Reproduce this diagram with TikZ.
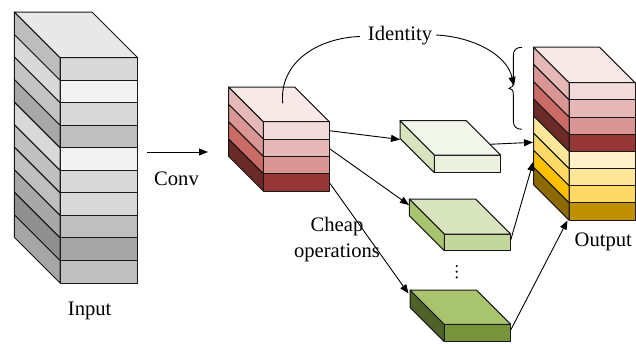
\documentclass[tikz,border=0pt]{standalone}
\usepackage{fontspec}
\setmainfont{Liberation Serif}
\usetikzlibrary{arrows.meta}

% grey stack
\definecolor{gA}{HTML}{D9D9D9}\definecolor{gAs}{HTML}{BDBDBD}
\definecolor{gB}{HTML}{F2F2F2}\definecolor{gBs}{HTML}{D9D9D9}
\definecolor{gC}{HTML}{BFBFBF}\definecolor{gCs}{HTML}{A8A8A8}
\definecolor{gD}{HTML}{A6A6A6}\definecolor{gDs}{HTML}{8F8F8F}
\definecolor{gCm}{HTML}{C4C4C4}
\definecolor{gTop}{HTML}{E8E8E8}
% red tints
\definecolor{rA}{HTML}{F2DCDB}\definecolor{rB}{HTML}{E6B9B8}
\definecolor{rC}{HTML}{D99694}\definecolor{rD}{HTML}{953735}
\definecolor{rCs}{HTML}{CB6B66}\definecolor{rDs}{HTML}{6B2A27}
\definecolor{rTop}{HTML}{F8E8E8}
% yellow tints
\definecolor{yA}{HTML}{FFF2CC}\definecolor{yB}{HTML}{FFE699}
\definecolor{yC}{HTML}{FFD966}\definecolor{yD}{HTML}{BF9000}
\definecolor{yCs}{HTML}{FFC000}\definecolor{yDs}{HTML}{8C6A00}
% green tints
\definecolor{vA}{HTML}{F3F7EB}\definecolor{vB}{HTML}{EBF1DE}
\definecolor{vC}{HTML}{D7E4BD}\definecolor{vD}{HTML}{C3D69B}
\definecolor{vE}{HTML}{A9C46E}\definecolor{vF}{HTML}{77933C}
\definecolor{vG}{HTML}{4F6228}

\tikzset{
  face/.style={draw=black!90, line width=1pt, line join=round},
  link/.style={draw=black, line width=0.9pt, -{Triangle[length=9pt,width=7pt]}},
  plain/.style={draw=black, line width=0.9pt},
  lbl/.style={font=\fontsize{20.6}{26.3}\selectfont, inner sep=0pt, align=center},
}

% one layer of a stack: x-left, y-top, width, height, depth, front, side
\newcommand\slab[7]{%
  \path[face, fill=#6] (#1,#2) rectangle ++(#3,#4);
  \path[face, fill=#7] (#1,#2) -- ++(-#5,-#5) -- ++(0,#4) -- ++(#5,#5) -- cycle;
}
% top face of a stack: x-left, y-top, width, depth, colour
\newcommand\slabtop[5]{%
  \path[face, fill=#5] (#1,#2) -- ++(-#4,-#4) -- ++(#3,0) -- ++(#4,#4) -- cycle;
}

\begin{document}
\begin{tikzpicture}[x=1pt,y=-1pt]
\useasboundingbox (0,0) rectangle (636,343);

% input tensor
\foreach \f/\s [count=\i from 0] in {gA/gAs,gB/gBs,gA/gCm,gC/gCs,gB/gBs,gA/gC,gA/gC,gC/gCs,gD/gDs,gC/gD}{
  \pgfmathsetmacro\yy{57.7+\i*22.53}
  \slab{60}{\yy}{77.7}{22.53}{45.7}{\f}{\s}
}
\slabtop{60}{57.7}{77.7}{45.7}{gTop}

% intrinsic feature maps
\foreach \f/\s [count=\i from 0] in {rA/rB,rB/rC,rC/rCs,rD/rDs}{
  \pgfmathsetmacro\yy{121.7+\i*17.33}
  \slab{263.3}{\yy}{66}{17.33}{34.7}{\f}{\s}
}
\slabtop{263.3}{121.7}{66}{34.7}{rTop}

% ghost feature maps
\slab{434.3}{155}{66.4}{17.7}{34.3}{vB}{vC}
\slabtop{434.3}{155}{66.4}{34.3}{vA}
\slab{444.3}{234}{66.4}{16.7}{35}{vD}{vE}
\slabtop{444.3}{234}{66.4}{35}{vC}
\slab{444.3}{324.3}{66.4}{17.4}{34.3}{vF}{vG}
\slabtop{444.3}{324.3}{66.4}{34.3}{vE}

% output tensor
\foreach \f/\s [count=\i from 0] in {rA/rB,rB/rC,rC/rCs,rD/rDs,yA/yB,yB/yC,yC/yCs,yD/yDs}{
  \pgfmathsetmacro\yy{82.7+\i*17.18}
  \slab{569}{\yy}{66}{17.18}{35.5}{\f}{\s}
}
\slabtop{569}{82.7}{66}{35.5}{rTop}

% vertical ellipsis between the branches
\foreach \yy in {266,271.7,277.4}
  \fill (456.7,\yy) circle (1.2);

% labels
\node[lbl, anchor=base] (input) at (89.7,315) {Input};
\node[lbl, anchor=base] (conv) at (176.5,185) {Conv};
\node[lbl, anchor=base] (ident) at (400,40.5) {Identity};
\node[lbl, anchor=base] (cheap) at (337,257.3) {Cheap\\operations};
\node[lbl, anchor=base] (output) at (603.3,246) {Output};

% connector end points on the blocks
\coordinate (in-e)   at (147,152);
\coordinate (mid-w)  at (208,152);
\coordinate (mid-t)  at (282.7,103.3);
\coordinate (mid-r1) at (329.3,130.7);
\coordinate (mid-r2) at (330,149);
\coordinate (mid-r4) at (330,183.5);
\coordinate (g1-w)   at (400,139.5);
\coordinate (g2-w)   at (409,205);
\coordinate (g3-w)   at (408.5,293.5);
\coordinate (g1-e)   at (489.6,144.3);
\coordinate (g2-e)   at (510.7,240);
\coordinate (g3-e)   at (510.7,330);
\coordinate (out-w1) at (533,142.3);
\coordinate (out-w2) at (533.3,161.7);
\coordinate (out-sw) at (567.5,220.5);
\coordinate (brace)  at (514,86);

% connectors
\draw[link] (in-e) -- (mid-w);
\draw[link] (mid-r1) -- (g1-w);
\draw[link] (mid-r2) -- (g2-w);
\draw[link] (mid-r4) -- (g3-w);
\draw[link] (g1-e) -- (out-w1);
\draw[link] (g2-e) -- (out-w2);
\draw[link] (g3-e) -- (out-sw);

% identity branch
\draw[plain] (mid-t) .. controls (279,62) and (318,38) .. ([xshift=-8pt,yshift=4pt]ident.base west);
\draw[link] ([xshift=4pt,yshift=5.5pt]ident.base east) .. controls (474,37) and (507,55) .. (brace);

% brace over the copied channels
\draw[plain] (522,47.3) .. controls (516,47.3) and (513.3,50) .. (513.3,56)
  -- (513.3,82) .. controls (513.3,86) and (512,88) .. (509,88.3)
  .. controls (512,88.6) and (513.3,90.5) .. (513.3,94.5)
  -- (513.3,120.5) .. controls (513.3,126.5) and (516,129.3) .. (522,129.3);
\end{tikzpicture}
\end{document}
